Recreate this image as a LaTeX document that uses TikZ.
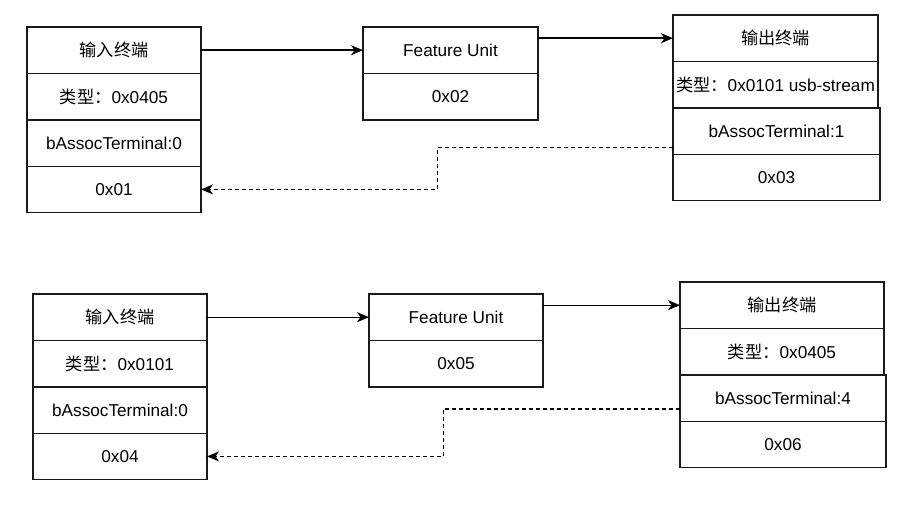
\documentclass[tikz,border=0pt]{standalone}
\usepackage{fontspec}
\setmainfont{Liberation Sans}
\newfontfamily\cjk{Noto Sans CJK SC}
\usepackage{tikz}
\usetikzlibrary{positioning,arrows.meta}
\definecolor{ink}{HTML}{000000}
\definecolor{edge}{HTML}{1A1A1A}
\tikzset{
  cell/.style     = {draw=edge, fill=white, line width=1.4pt, inner sep=0pt, outer sep=0pt,
                     minimum height=46.4pt, anchor=north west,
                     font=\fontsize{17.2}{20}\selectfont\color{ink}},
  narrowcell/.style = {cell, minimum width=174pt},
  widecell/.style   = {cell, minimum width=205pt},
  flow/.style     = {-{Stealth[length=12pt,width=10pt,inset=3.5pt]}, draw=ink, line width=1.4pt},
  backlink/.style = {-{Stealth[length=12pt,width=10pt,inset=3.5pt]}, draw=ink, line width=1.4pt,
                     dash pattern=on 4pt off 3pt},
}

\begin{document}
\begin{tikzpicture}[x=1pt,y=-1pt]
\path[use as bounding box] (0,0) rectangle (897,511);

% ---- first chain: 0x01 -> 0x02 -> 0x03 ------------------------------------
\node[narrowcell] (ina-head) at (27,27) {{\cjk 输入终端}};
\node[narrowcell, below=0pt of ina-head.south west, anchor=north west] (ina-type) {{\cjk 类型：}0x0405};
\node[narrowcell, below=0pt of ina-type.south west, anchor=north west] (ina-assoc) {bAssocTerminal:0};
\node[narrowcell, below=0pt of ina-assoc.south west, anchor=north west] (ina-id) {0x01};

\node[cell, minimum width=175pt] (fua-head) at (363,27) {Feature Unit};
\node[cell, minimum width=175pt, below=0pt of fua-head.south west, anchor=north west] (fua-id) {0x02};

\node[widecell] (outa-head) at (673,15) {{\cjk 输出终端}};
\node[widecell, below=0pt of outa-head.south west, anchor=north west] (outa-type) {{\cjk 类型：}0x0101 usb-stream};
\node[cell, minimum width=207pt, below=0pt of outa-type.south west, anchor=north west] (outa-assoc) {bAssocTerminal:1};
\node[cell, minimum width=207pt, below=0pt of outa-assoc.south west, anchor=north west] (outa-id) {0x03};

\draw[flow] (ina-head) -- (fua-head);
\draw[flow] (fua-head.east |- outa-head.west) -- (outa-head.west);
\coordinate (benda) at (437.7,170);
\draw[backlink] ([yshift=7pt]outa-assoc.south west) -| (benda) |- (ina-id.east);

% ---- second chain: 0x04 -> 0x05 -> 0x06 -----------------------------------
\node[narrowcell] (inb-head) at (33,294) {{\cjk 输入终端}};
\node[narrowcell, below=0pt of inb-head.south west, anchor=north west] (inb-type) {{\cjk 类型：}0x0101};
\node[narrowcell, below=0pt of inb-type.south west, anchor=north west] (inb-assoc) {bAssocTerminal:0};
\node[narrowcell, below=0pt of inb-assoc.south west, anchor=north west] (inb-id) {0x04};

\node[narrowcell] (fub-head) at (369,294) {Feature Unit};
\node[narrowcell, below=0pt of fub-head.south west, anchor=north west] (fub-id) {0x05};

\node[cell, minimum width=204pt] (outb-head) at (680,282) {{\cjk 输出终端}};
\node[cell, minimum width=204pt, below=0pt of outb-head.south west, anchor=north west] (outb-type) {{\cjk 类型：}0x0405};
\node[widecell, minimum width=206pt, below=0pt of outb-type.south west, anchor=north west] (outb-assoc) {bAssocTerminal:4};
\node[widecell, minimum width=206pt, below=0pt of outb-assoc.south west, anchor=north west] (outb-id) {0x06};

\draw[flow] (inb-head) -- (fub-head);
\draw[flow] (fub-head.east |- outb-head.west) -- (outb-head.west);
\coordinate (bendb) at (443.3,430);
\draw[backlink] ([yshift=12.4pt]outb-assoc.south west) -| (bendb) |- (inb-id.east);

\end{tikzpicture}
\end{document}
